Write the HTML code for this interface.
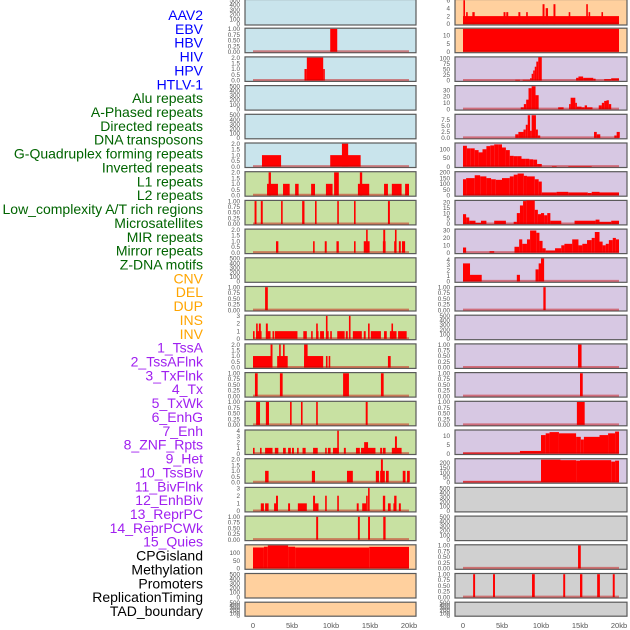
<!DOCTYPE html>
<html><head><meta charset="utf-8"><style>
html,body{margin:0;padding:0;background:#fff;}
svg{display:block;font-family:"Liberation Sans",sans-serif;}
</style></head><body>
<svg id="chart" width="630" height="630" viewBox="0 0 630 630" xmlns="http://www.w3.org/2000/svg"></svg>
<script>
const trackLabels = ["AAV2","EBV","HBV","HIV","HPV","HTLV-1","Alu repeats","A-Phased repeats","Directed repeats","DNA transposons","G-Quadruplex forming repeats","Inverted repeats","L1 repeats","L2 repeats","Low_complexity A/T rich regions","Microsatellites","MIR repeats","Mirror repeats","Z-DNA motifs","CNV","DEL","DUP","INS","INV","1_TssA","2_TssAFlnk","3_TxFlnk","4_Tx","5_TxWk","6_EnhG","7_Enh","8_ZNF_Rpts","9_Het","10_TssBiv","11_BivFlnk","12_EnhBiv","13_ReprPC","14_ReprPCWk","15_Quies","CPGisland","Methylation","Promoters","ReplicationTiming","TAD_boundary"];
const labelColors = [].concat(Array(6).fill("#0000ff"),Array(13).fill("#006400"),Array(5).fill("#ffa500"),Array(15).fill("#a020f0"),Array(5).fill("#000000"));
const xTickValues = [0,5,10,15,20];
const xTickLabels = ["0","5kb","10kb","15kb","20kb"];

const ticksEmpty = [0,100,200,300,400,500];
const ticks1 = [0,0.25,0.5,0.75,1];
const ticks2 = [0,0.5,1,1.5,2];
const ticks3 = [0,1,2,3];
const ticks4 = [0,1,2,3,4];

// left column segments [startKb, endKb, value]
const L0 = [];
const L1 = [[9.9,10.8,1]];
const L2 = [[6.6,6.9,1],[6.9,9.0,2],[9.0,9.2,1]];
const L3 = [];
const L4 = [];
const L5 = [[1.15,3.6,1],[9.9,13.8,1],[11.4,12.2,2]];
const L6 = [[1.8,3.2,1],[2.0,2.3,2],[3.85,4.7,1],[5.4,5.85,1],[7.45,7.95,1],[9.35,10.2,1],[10.4,11.0,2],[13.45,14.9,1],[13.7,14.0,2],[16.8,17.3,1],[17.8,19.05,1],[19.5,20,1]];
const L7 = [[0.2,0.45,1],[1.0,1.25,1],[3.6,3.8,1],[6.3,6.6,1],[7.95,8.15,1],[10.8,11.0,1],[12.95,13.15,1],[17.3,17.55,1]];
const L8 = [[2.95,3.25,1],[7.7,7.9,1],[9.2,9.45,1],[10.7,11.0,1],[12.95,13.15,1],[14.2,14.95,1],[14.5,14.7,2],[16.65,17.0,1],[16.7,16.95,2],[18.1,18.4,1],[18.2,18.4,2],[18.7,18.95,1],[19.1,19.5,1]];
const L9 = [];
const L10 = [[1.55,1.9,1]];
const L11 = [[0,0.2,1],[0.4,1.1,1],[0.4,0.6,2],[0.75,1.0,2],[1.65,2.25,1],[1.65,1.9,2],[2.5,2.7,1],[2.8,5.7,1],[6.45,6.9,1],[7.45,7.65,1],[8.1,8.4,1],[8.1,8.3,2],[8.6,9.1,1],[9.35,9.7,1],[9.35,9.55,3],[9.9,10.1,1],[10.8,11.75,1],[11.9,12.15,1],[12.3,12.5,3],[12.8,13.95,1],[14.2,14.45,1],[14.75,14.95,2],[15.1,16.4,1],[16.8,17.15,1],[17.55,18.4,1],[17.75,17.95,2],[18.6,19.7,1]];
const L12 = [[0,2.5,1],[2.25,2.5,2],[3.1,4.45,1],[3.35,3.55,2],[3.85,4.05,2],[6.55,9.0,1],[6.55,7.0,2],[9.35,9.55,1],[9.7,9.9,1],[17.3,17.65,1]];
const L13 = [[0.25,0.6,1],[3.45,3.8,1],[11.55,12.3,1],[16.4,16.75,1]];
const L14 = [[0.4,0.9,1],[1.65,2.05,1],[4.75,4.95,1],[6.15,6.35,1],[8.1,8.3,1],[14.45,14.7,1]];
const L15 = [[0,0.15,1],[0.9,1.1,1],[1.55,2.5,1],[2.8,3.25,1],[3.85,4.2,1],[4.5,4.85,1],[5.0,5.25,1],[5.65,5.85,1],[6.35,6.75,1],[7.7,8.3,1],[9.25,9.45,1],[9.6,9.95,1],[10.25,11.0,1],[10.8,11.0,4],[11.65,11.9,1],[13.2,13.7,1],[13.85,15.7,1],[14.25,14.75,2],[16.3,16.55,1],[16.65,17.0,1],[17.8,19.05,1],[18.2,18.45,3]];
const L16 = [[1.55,2.0,1],[7.55,7.95,1],[12.05,12.8,1],[15.75,16.15,1],[16.3,16.9,1],[16.4,16.65,2],[17.05,17.4,1],[19.2,19.55,1],[19.75,20.1,1]];
const L17 = [[1.0,1.4,1],[1.55,2.0,1],[2.7,2.95,1],[2.95,3.2,2],[4.5,4.75,1],[5.75,6.9,1],[7.7,7.95,2],[7.95,8.4,1],[9.25,9.45,2],[10.8,11.0,2],[13.3,13.55,1],[14.0,14.5,1],[14.5,14.7,2],[14.75,14.95,3],[16.65,16.95,2],[17.3,17.65,1],[18.0,18.1,1],[18.1,18.4,2],[18.7,18.95,1]];
const L18 = [[8.1,8.35,1],[13.45,13.7,1],[14.75,15.0,1],[16.7,17.0,1]];
const L19 = [[0,1.4,135],[1.4,1.9,140],[1.9,4.5,148],[4.5,5.4,140],[5.4,14.9,135],[14.9,20,139]];
const L20 = [];
const L21 = [];

// right column segments
const R0 = [[0,20,2],[0.05,0.2,6],[0.4,0.6,3],[1.2,1.5,3],[5.2,5.45,3],[5.55,5.8,3],[7.1,7.35,3],[8.1,8.3,3],[10.2,10.45,5],[10.6,10.9,4],[11.6,11.85,5],[13.55,13.75,3],[15.8,16.0,5],[16.1,16.3,3],[17.75,17.95,3]];
const R1 = [[0,20,14]];
const R2 = [[6.7,7.3,3],[7.65,8.6,3],[8.6,8.8,10],[8.8,9.0,30],[9.0,9.2,45],[9.2,9.4,62],[9.4,9.65,85],[9.65,10.1,105],[14.5,14.8,12],[14.8,15.4,18],[15.4,16.7,12],[16.7,17.0,8],[18.1,19.0,6],[19.0,20,10]];
const R3 = [[7.4,7.8,3],[7.8,8.1,8],[8.1,8.4,15],[8.4,8.8,33],[8.8,9.3,36],[9.3,9.7,22],[12.2,12.9,3],[13.6,13.8,8],[13.8,14.4,18],[14.4,14.6,10],[14.6,15.2,4],[15.2,15.6,3],[15.6,15.9,6],[15.9,16.6,3],[17.4,17.8,6],[17.8,18.1,10],[18.1,18.4,13],[18.4,18.7,14],[18.7,19.0,8]];
const R4 = [[6.7,7.1,1.5],[7.1,7.75,2.5],[7.75,8.05,3.5],[8.05,8.3,5.5],[8.3,8.6,9.5],[8.6,8.8,3],[8.8,9.35,9.5],[9.35,9.6,3.5],[9.6,9.9,1],[16.8,17.15,2.5],[17.15,17.6,1.5],[19.4,19.7,1],[19.7,20.1,2.5]];
const R5 = [[0,0.5,120],[0.5,1,105],[1,1.5,105],[1.5,2,95],[2,2.5,82],[2.5,3,100],[3,3.5,118],[3.5,4,122],[4,4.5,128],[4.5,5,128],[5,5.5,110],[5.5,6,95],[6,6.5,62],[6.5,7,60],[7,7.5,60],[7.5,8,45],[8,8.5,45],[8.5,9,42],[9,9.5,40],[9.5,10.1,15],[11.4,12,3],[13.5,16.5,3]];
const R6 = [[0,0.4,140],[0.4,1.5,150],[1.5,2.2,175],[2.2,3,165],[3,3.6,150],[3.6,4.2,140],[4.2,5,135],[5,6,150],[6,6.5,165],[6.5,7,180],[7,7.8,190],[7.8,8.2,170],[8.2,9.2,165],[9.2,9.7,140],[9.7,10.1,120],[10.1,12,25],[12,13.5,30],[13.5,16,25],[16,16.5,20],[16.5,17.5,30],[17.5,20,25]];
const R7 = [[0,0.4,9],[0.4,0.8,6],[0.8,1.6,3],[1.6,2.3,1],[2.3,3.0,3],[4.0,5.5,3],[6.5,6.9,2],[6.9,7.3,10],[7.3,7.7,17],[7.7,8.1,21],[8.1,9.2,22],[9.2,9.6,13],[9.6,10.0,9],[10.0,10.4,10],[10.4,10.8,8],[10.8,11.2,10],[11.2,12.6,3],[14.3,17,3],[17,17.5,4],[17.5,19,2],[19,20,3]];
const R8 = [[0,0.4,7],[3.4,4.0,2],[6.6,7.2,8],[7.2,7.6,18],[7.6,8.2,12],[8.2,8.6,18],[8.6,9.4,30],[9.4,9.8,27],[9.8,10.2,16],[10.2,10.6,6],[10.6,11.8,3],[11.8,12.6,6],[12.6,13.0,10],[13.0,14.0,12],[14.0,14.8,18],[14.8,15.3,10],[15.3,15.9,12],[15.9,16.5,17],[16.5,16.9,20],[16.9,17.5,28],[17.5,17.9,15],[17.9,18.3,10],[18.3,18.7,12],[18.7,19.2,17],[19.2,19.6,20],[19.6,20,18]];
const R9 = [[0,0.9,3.3],[0.9,2.4,1.2],[6.9,7.3,1.2],[9.3,9.7,2.2],[9.7,10.0,3.3],[10.0,10.4,4.2]];
const R10 = [[10.3,10.6,1]];
const R11 = [];
const R12 = [[14.75,15.2,1]];
const R13 = [[15.0,15.35,1]];
const R14 = [[14.6,15.6,1]];
const R15 = [[0,7.3,0.5],[7.3,10,1.5],[10,10.6,10.5],[10.6,11.1,11.5],[11.1,12.3,12.2],[12.3,14.5,11.5],[14.5,15.1,9.5],[15.1,15.5,8],[15.5,17.5,9.5],[17.5,18.6,10.5],[18.6,19.5,11.5],[19.5,20,12.5]];
const R16 = [[0,10,8],[10,12.5,235],[12.5,14.5,230],[14.5,15,225],[15,19,230],[19,19.5,215],[19.5,20,225]];
const R17 = [];
const R18 = [];
const R19 = [[14.75,15.1,1]];
const R20 = [[1.3,1.55,1],[3.85,4.1,1],[8.85,9.2,1],[12.85,13.1,1],[15.0,15.3,1],[17.2,17.55,1],[19.2,19.45,1]];
const R21 = [];

const leftSeries = [L0,L1,L2,L3,L4,L5,L6,L7,L8,L9,L10,L11,L12,L13,L14,L15,L16,L17,L18,L19,L20,L21];
const rightSeries = [R0,R1,R2,R3,R4,R5,R6,R7,R8,R9,R10,R11,R12,R13,R14,R15,R16,R17,R18,R19,R20,R21];
const leftTicks = [ticksEmpty,ticks1,ticks2,ticksEmpty,ticksEmpty,ticks2,ticks2,ticks1,ticks2,ticksEmpty,ticks1,ticks3,ticks2,ticks1,ticks1,ticks4,ticks2,ticks3,ticks1,[0,50,100],ticksEmpty,ticksEmpty];
const rightTicks = [[0,2,4,6],[0,5,10],[0,25,50,75,100],[0,10,20,30],[0,2.5,5,7.5],[0,50,100],[0,50,100,150,200],[0,5,10,15,20],[0,10,20,30],[0,1,2,3,4],ticks1,ticksEmpty,ticks1,ticks1,ticks1,[0,5,10],[0,50,100,150,200],ticksEmpty,ticksEmpty,ticks1,ticks1,ticksEmpty];
const leftTop = [500,1,2,500,500,2,2,1,2,500,1,3,2,1,1,4,2,3,1,148,500,500];
const rightTop = [6,14,103,36,9.6,132,200,21,31,4.2,1,500,1,1,1,13,238,500,500,1,1,500];

const BG = {blue:"#c9e4ec",green:"#c8e1a2",orange:"#ffd09e",purple:"#d7c8e3",gray:"#d0d0d0"};
const leftBg = i => i<6?BG.blue:(i<19?BG.green:BG.orange);
const rightBg = i => i<2?BG.orange:(i<17?BG.purple:BG.gray);

const NS="http://www.w3.org/2000/svg";
const svg=document.getElementById('chart');
function mk(tag,attrs,parent){const e=document.createElementNS(NS,tag);for(const k in attrs)e.setAttribute(k,attrs[k]);(parent||svg).appendChild(e);return e;}

// labels
const labelStep=(611-15)/43;
trackLabels.forEach((t,i)=>{
  const e=mk('text',{x:203,y:15+i*labelStep+5,'text-anchor':'end','font-size':'14',fill:labelColors[i]});
  
  
  e.textContent=t;
});

function fmt(v,ticks){
  const dec = ticks.some(t=>Math.abs(t*4-Math.round(t*4))<1e-9 && t%0.5!==0)?2:(ticks.some(t=>t%1!==0)?1:0);
  if(ticks===ticks1) return v.toFixed(2);
  return v.toFixed(dec);
}

function panel(col,row,data,ticks,top,bg){
  const px = col===0?245:455, pw = col===0?171:172;
  const x0 = col===0?253:463, kb=7.8;
  const py = row===0?-0.5:row*28.7-0.5;
  const ph = row===21?14:(row===0?25.5:24.5);
  const g=mk('g',{});
  
  
  const r=mk('rect',{x:px,y:py,width:pw,height:ph,fill:bg,stroke:'#5a5a5a','stroke-width':1.2},g);
  
  
  const hi = top*1.03, lo=-top*0.04;
  const y = v => py+ph - (Math.min(v,hi)-lo)/(hi-lo)*ph;
  const x = k => x0 + k*kb;
  const empty = data.length===0;
  data.forEach(s=>{
    const w=Math.max(x(s[1])-x(s[0]),1.6);
    const b=mk('rect',{x:x(s[0]),y:y(s[2]),width:w,height:y(0)-y(s[2]),fill:'#ff0000'},g);
    
    
  });
  if(!empty){
    const l=mk('line',{x1:x(0),x2:x(20),y1:y(0)-0.5,y2:y(0)-0.5,stroke:'rgba(200,0,0,0.45)','stroke-width':2},g);
    
    
  }
  ticks.forEach(t=>{
    const tx=mk('text',{x:px-5,y:y(t)+2.2,'text-anchor':'end','font-size':'6.3',fill:'#555'},g);
    
    
    tx.textContent=fmt(t,ticks);
  });
}
for(let i=0;i<22;i++){
  panel(0,i,leftSeries[i],leftTicks[i],leftTop[i],leftBg(i));
  panel(1,i,rightSeries[i],rightTicks[i],rightTop[i],rightBg(i));
}
[253,463].forEach(x0=>{
  xTickValues.forEach((v,j)=>{
    const t=mk('text',{x:x0+v*7.8,y:628,'text-anchor':'middle','font-size':'7.5',fill:'#555'});
    
    
    t.textContent=xTickLabels[j];
  });
});
</script>
</body></html>
